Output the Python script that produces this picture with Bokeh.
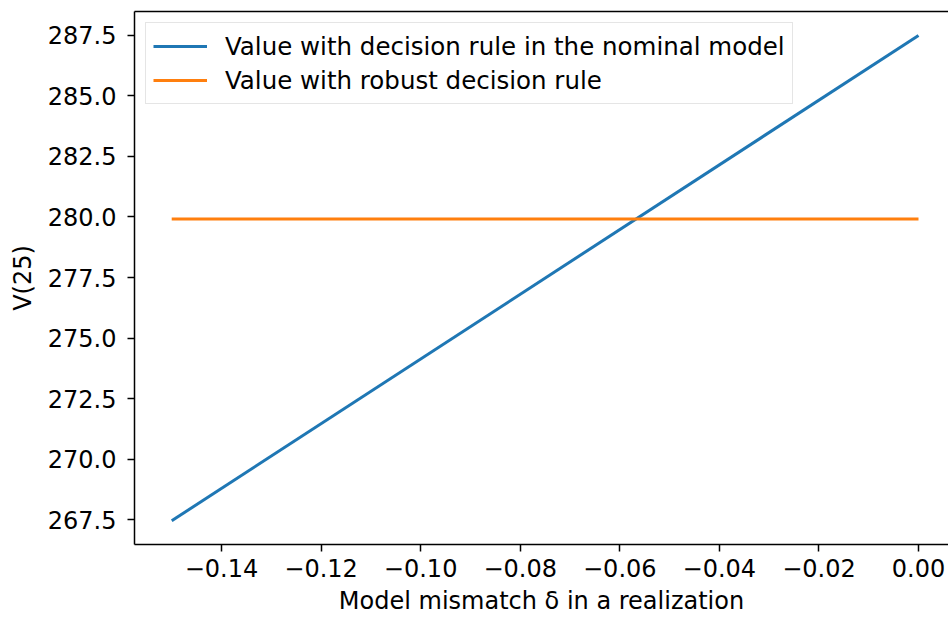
from bokeh.plotting import figure
from bokeh.models import FixedTicker, LinearAxis, Range1d
from bokeh.embed import file_html
from bokeh.resources import INLINE

# data
delta = [-0.15, 0.0]
value_nominal = [267.45, 287.5]
value_robust = [279.92, 279.92]

x_ticks = [-0.14, -0.12, -0.10, -0.08, -0.06, -0.04, -0.02, 0.00]
x_tick_labels = ["\u22120.14", "\u22120.12", "\u22120.10", "\u22120.08", "\u22120.06", "\u22120.04", "\u22120.02", "0.00"]
y_ticks = [267.5, 270.0, 272.5, 275.0, 277.5, 280.0, 282.5, 285.0, 287.5]
y_tick_labels = ["267.5", "270.0", "272.5", "275.0", "277.5", "280.0", "282.5", "285.0", "287.5"]

FONT = "DejaVu Sans"
FS = "24px"

p = figure(width=948, height=617, output_backend="svg", toolbar_location=None,
           x_range=Range1d(-0.157475, 0.006026), y_range=Range1d(266.469, 288.49),
           min_border_left=134, min_border_top=11, min_border_right=0, min_border_bottom=72)
p.outline_line_color = None
p.grid.visible = False
p.background_fill_color = "white"

p.line(delta, value_nominal, line_color="#1f77b4", line_width=3,
       legend_label="Value with decision rule in the nominal model")
p.line(delta, value_robust, line_color="#ff7f0e", line_width=3,
       legend_label="Value with robust decision rule")

for ax, ticks, labels in ((p.xaxis[0], x_ticks, x_tick_labels), (p.yaxis[0], y_ticks, y_tick_labels)):
    ax.ticker = FixedTicker(ticks=ticks)
    ax.major_label_overrides = {t: l for t, l in zip(ticks, labels)}
    ax.major_label_text_font = FONT
    ax.major_label_text_font_size = FS
    ax.major_label_text_color = "black"
    ax.axis_label_text_font = FONT
    ax.axis_label_text_font_size = FS
    ax.axis_label_text_font_style = "normal"
    ax.axis_label_text_color = "black"
    ax.major_tick_in = 0
    ax.major_tick_out = 7
    ax.major_tick_line_width = 1.5
    ax.minor_tick_line_color = None
    ax.axis_line_width = 1.5
    ax.axis_line_color = "black"
    ax.major_tick_line_color = "black"

p.xaxis.axis_label = "Model mismatch \u03b4 in a realization"
p.yaxis.axis_label = "V(25)"
p.xaxis.major_label_standoff = 7
p.yaxis.major_label_standoff = 11
p.xaxis.axis_label_standoff = 7
p.yaxis.axis_label_standoff = 8

top = LinearAxis(ticker=FixedTicker(ticks=[]), major_tick_out=0, major_tick_in=0,
                 minor_tick_out=0, minor_tick_in=0, major_label_text_font_size="0px",
                 axis_line_width=1.5, axis_line_color="black")
p.add_layout(top, "above")

lg = p.legend[0]
lg.location = "top_left"
lg.margin = 11
lg.padding = 7
lg.spacing = 2
lg.glyph_width = 54
lg.glyph_height = 32
lg.label_height = 32
lg.label_standoff = 18
lg.label_text_font = FONT
lg.label_text_font_size = "24.5px"
lg.label_text_color = "black"
lg.border_line_color = "#cccccc"
lg.border_line_width = 1.5
lg.background_fill_alpha = 0.8

open("out.html", "w").write(file_html(p, INLINE))
